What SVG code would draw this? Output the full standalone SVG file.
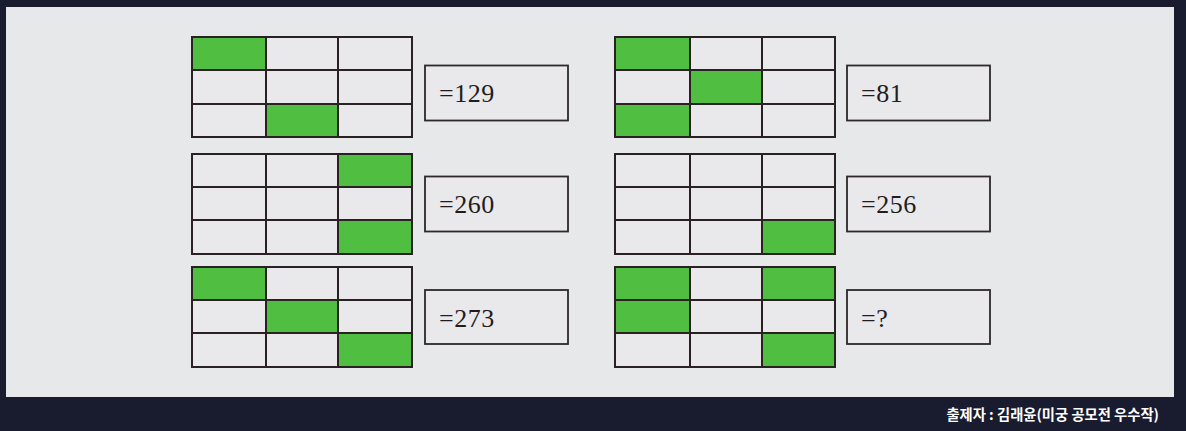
<svg xmlns="http://www.w3.org/2000/svg" width="1186" height="431" viewBox="0 0 1186 431">
<defs>
<style>
.bg{fill:#181c2e}
.panel{fill:#e7e8ea}
.cell{fill:#e9e9eb;stroke:#2a2222;stroke-width:2}
.on{fill:#50be41;stroke:#2a2222;stroke-width:2}
.box{fill:#e9e9eb;stroke:#2e2828;stroke-width:1.8}
.lbl{font-family:"Liberation Serif","DejaVu Serif",serif;font-size:26px;letter-spacing:0.5px;fill:#221c1c}
.credit{font-family:"Noto Sans CJK KR","Noto Sans",sans-serif;font-size:14.3px;font-weight:bold;fill:#ffffff}
</style>
</defs>
<rect class="bg" x="0" y="0" width="1186" height="431"/>
<rect class="panel" x="6" y="7" width="1168" height="390"/>

<g id="gridL1">
<rect class="on" x="192" y="37" width="74" height="33"/><rect class="cell" x="266" y="37" width="72" height="33"/><rect class="cell" x="338" y="37" width="74" height="33"/>
<rect class="cell" x="192" y="70" width="74" height="34"/><rect class="cell" x="266" y="70" width="72" height="34"/><rect class="cell" x="338" y="70" width="74" height="34"/>
<rect class="cell" x="192" y="104" width="74" height="33"/><rect class="on" x="266" y="104" width="72" height="33"/><rect class="cell" x="338" y="104" width="74" height="33"/>
</g>
<g id="boxL1"><rect class="box" x="425" y="65.5" width="143" height="55"/><text class="lbl" x="439" y="101.5">=129</text></g>

<g id="gridL2">
<rect class="cell" x="192" y="154" width="74" height="33"/><rect class="cell" x="266" y="154" width="72" height="33"/><rect class="on" x="338" y="154" width="74" height="33"/>
<rect class="cell" x="192" y="187" width="74" height="33"/><rect class="cell" x="266" y="187" width="72" height="33"/><rect class="cell" x="338" y="187" width="74" height="33"/>
<rect class="cell" x="192" y="220" width="74" height="34"/><rect class="cell" x="266" y="220" width="72" height="34"/><rect class="on" x="338" y="220" width="74" height="34"/>
</g>
<g id="boxL2"><rect class="box" x="425" y="176.5" width="143" height="55"/><text class="lbl" x="439" y="212.5">=260</text></g>

<g id="gridL3">
<rect class="on" x="192" y="267" width="74" height="33"/><rect class="cell" x="266" y="267" width="72" height="33"/><rect class="cell" x="338" y="267" width="74" height="33"/>
<rect class="cell" x="192" y="300" width="74" height="33"/><rect class="on" x="266" y="300" width="72" height="33"/><rect class="cell" x="338" y="300" width="74" height="33"/>
<rect class="cell" x="192" y="333" width="74" height="34"/><rect class="cell" x="266" y="333" width="72" height="34"/><rect class="on" x="338" y="333" width="74" height="34"/>
</g>
<g id="boxL3"><rect class="box" x="425" y="290" width="143" height="54"/><text class="lbl" x="439" y="326.5">=273</text></g>

<g id="gridR1">
<rect class="on" x="615" y="37" width="75" height="33"/><rect class="cell" x="690" y="37" width="72" height="33"/><rect class="cell" x="762" y="37" width="73" height="33"/>
<rect class="cell" x="615" y="70" width="75" height="34"/><rect class="on" x="690" y="70" width="72" height="34"/><rect class="cell" x="762" y="70" width="73" height="34"/>
<rect class="on" x="615" y="104" width="75" height="33"/><rect class="cell" x="690" y="104" width="72" height="33"/><rect class="cell" x="762" y="104" width="73" height="33"/>
</g>
<g id="boxR1"><rect class="box" x="847" y="65.5" width="143" height="55"/><text class="lbl" x="861" y="101.5">=81</text></g>

<g id="gridR2">
<rect class="cell" x="615" y="154" width="75" height="33"/><rect class="cell" x="690" y="154" width="72" height="33"/><rect class="cell" x="762" y="154" width="73" height="33"/>
<rect class="cell" x="615" y="187" width="75" height="33"/><rect class="cell" x="690" y="187" width="72" height="33"/><rect class="cell" x="762" y="187" width="73" height="33"/>
<rect class="cell" x="615" y="220" width="75" height="34"/><rect class="cell" x="690" y="220" width="72" height="34"/><rect class="on" x="762" y="220" width="73" height="34"/>
</g>
<g id="boxR2"><rect class="box" x="847" y="176.5" width="143" height="55"/><text class="lbl" x="861" y="212.5">=256</text></g>

<g id="gridR3">
<rect class="on" x="615" y="267" width="75" height="33"/><rect class="cell" x="690" y="267" width="72" height="33"/><rect class="on" x="762" y="267" width="73" height="33"/>
<rect class="on" x="615" y="300" width="75" height="33"/><rect class="cell" x="690" y="300" width="72" height="33"/><rect class="cell" x="762" y="300" width="73" height="33"/>
<rect class="cell" x="615" y="333" width="75" height="34"/><rect class="cell" x="690" y="333" width="72" height="34"/><rect class="on" x="762" y="333" width="73" height="34"/>
</g>
<g id="boxR3"><rect class="box" x="847" y="290" width="143" height="54"/><text class="lbl" x="861" y="326.5">=?</text></g>

<g id="connectors"></g>
<text class="credit" x="1159" y="420" text-anchor="end">출제자 : 김래윤(미궁 공모전 우수작)</text>
</svg>
